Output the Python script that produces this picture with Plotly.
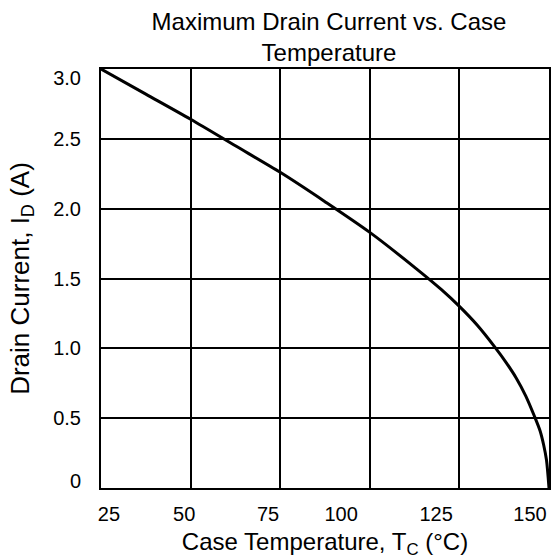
import plotly.graph_objects as go

# Curve
temp_c = [25, 37.5, 50, 62.5, 75, 87.5, 100, 112.5, 120, 125, 130, 135, 138, 140.8, 143.5, 146, 147.5, 148.5, 149.3, 150]
drain_a = [3.00, 2.82, 2.64, 2.45, 2.26, 2.05, 1.83, 1.58, 1.42, 1.30, 1.165, 1.005, 0.90, 0.79, 0.66, 0.51, 0.41, 0.31, 0.20, 0.00]

# Tick labels (as printed, slightly offset from the grid in the reference)
x_tick_text = ["25", "50", "75", "100", "125", "150"]
x_tick_pos = [27.2, 48.2, 71.6, 92.0, 118.5, 144.7]
y_tick_text = ["0", "0.5", "1.0", "1.5", "2.0", "2.5", "3.0"]
y_tick_pos = [0.05, 0.5, 1.0, 1.5, 2.0, 2.5, 2.935]

FONT = "Liberation Sans, Arial, sans-serif"

fig = go.Figure()
fig.add_trace(go.Scatter(x=temp_c, y=drain_a, mode="lines",
                         line=dict(color="black", width=3, shape="spline", smoothing=0.8),
                         showlegend=False, hoverinfo="skip"))
fig.add_trace(go.Scatter(x=[None], y=[None], xaxis="x2", yaxis="y2", mode="lines",
                         showlegend=False, hoverinfo="skip"))

fig.update_layout(
    width=552, height=559,
    margin=dict(l=101, r=3, t=69, b=71),
    paper_bgcolor="white", plot_bgcolor="white",
    font=dict(family=FONT, color="black", size=20),
    title=dict(text="Maximum Drain Current vs. Case<br>Temperature",
               x=0.596, xanchor="center", y=0.947, yanchor="top",
               font=dict(size=24, color="black", family=FONT)),
    xaxis=dict(range=[25, 150], tick0=25, dtick=25, showgrid=True, gridcolor="black",
               gridwidth=2, showline=True, linecolor="black", linewidth=2, mirror=True,
               showticklabels=False, ticks="", zeroline=False, automargin=False),
    yaxis=dict(range=[0, 3], tick0=0, dtick=0.5, showgrid=True, gridcolor="black",
               gridwidth=2, showline=True, linecolor="black", linewidth=2, mirror=True,
               showticklabels=False, ticks="", zeroline=False, automargin=False),
    xaxis2=dict(range=[25, 150], overlaying="x", anchor="y", side="bottom",
                tickmode="array", tickvals=x_tick_pos, ticktext=x_tick_text,
                showgrid=False, zeroline=False, showline=False, automargin=False,
                ticks="outside", ticklen=8, tickcolor="rgba(0,0,0,0)",
                tickfont=dict(size=20),
                title=dict(text="Case Temperature, T<sub>C</sub> (°C)", font=dict(size=24),
                           standoff=11)),
    yaxis2=dict(range=[0, 3], overlaying="y", anchor="x", side="left",
                tickmode="array", tickvals=y_tick_pos, ticktext=y_tick_text,
                showgrid=False, zeroline=False, showline=False, automargin=False,
                ticks="outside", ticklen=15, tickcolor="rgba(0,0,0,0)",
                tickfont=dict(size=20),
                title=dict(text="Drain Current, I<sub>D</sub> (A)", font=dict(size=26),
                           standoff=16)),
)

fig.write_html("out.html", config={"displayModeBar": False},
               post_script="document.body.style.margin='0';")
